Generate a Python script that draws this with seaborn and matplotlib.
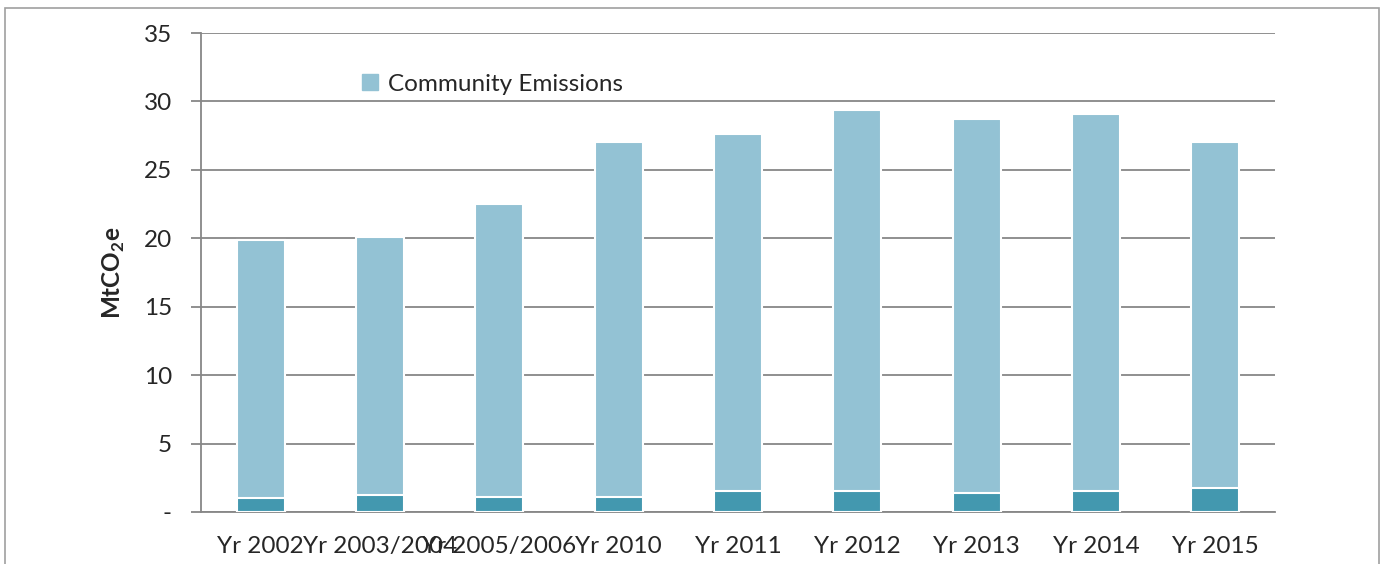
import matplotlib
matplotlib.use("Agg")
import matplotlib.pyplot as plt
import matplotlib.patches as mpatches
import seaborn as sns
import pandas as pd
import numpy as np

# values (MtCO2e)
years = ["Yr 2002", "Yr 2003/2004", "Yr 2005/2006", "Yr 2010", "Yr 2011",
         "Yr 2012", "Yr 2013", "Yr 2014", "Yr 2015"]
council = [1.0, 1.25, 1.1, 1.1, 1.55, 1.5, 1.4, 1.55, 1.75]
community = [18.9, 18.85, 21.4, 25.9, 26.05, 27.9, 27.3, 27.55, 25.25]
yticks = [0, 5, 10, 15, 20, 25, 30, 35]
ytick_labels = ["-", "5", "10", "15", "20", "25", "30", "35"]

light = "#93c2d4"
dark = "#4398af"
grey = "#878787"
fs = 17.5

sns.set_style("white")
plt.rcParams["font.family"] = ["Lato", "DejaVu Sans"]
plt.rcParams["mathtext.fontset"] = "custom"
plt.rcParams["mathtext.rm"] = "Lato"
plt.rcParams["mathtext.bf"] = "Lato:bold"

df = pd.DataFrame({"year": years, "council": council, "community": community})
df["total"] = df["council"] + df["community"]

fig = plt.figure(figsize=(13.84, 5.64), dpi=100)
ax = fig.add_axes([201 / 1384, 52 / 564, 1074 / 1384, 479 / 564])

# outer chart border
fig.patches.append(mpatches.Rectangle((5 / 1384, -0.05), 1374 / 1384, 1.05 - 8 / 564,
                                      transform=fig.transFigure, fill=False,
                                      edgecolor="#a0a0a0", linewidth=1.2))

sns.barplot(data=df, x="year", y="total", color=light, saturation=1, width=0.4,
            edgecolor="white", linewidth=1.5, ax=ax, zorder=3)
sns.barplot(data=df, x="year", y="council", color=dark, saturation=1, width=0.4,
            edgecolor="white", linewidth=1.5, ax=ax, zorder=4)

ax.set_ylim(0, 35)
ax.set_xlim(-0.5, len(years) - 0.5)
ax.set_yticks(yticks)
ax.set_yticklabels(ytick_labels, fontsize=fs)
ax.yaxis.grid(True, color=grey, linewidth=1.3, zorder=0)
ax.set_axisbelow(True)

ax.set_xticks(range(len(years)))
ax.set_xticklabels(years, fontsize=fs)
ax.set_xticks(np.arange(-0.5, len(years), 1.0), minor=True)
ax.tick_params(axis="x", which="major", length=0, pad=17)
ax.tick_params(axis="x", which="minor", length=6, color=grey, width=1.3, direction="out")
ax.tick_params(axis="y", length=7, color=grey, width=1.3, direction="out", pad=14, left=True)

for s in ["top", "right"]:
    ax.spines[s].set_visible(False)
for s in ["left", "bottom"]:
    ax.spines[s].set_color(grey)
    ax.spines[s].set_linewidth(1.3)

ax.set_xlabel("")
ax.set_ylabel(r"MtCO$_\mathbf{2}$e", fontsize=fs, fontweight="bold", labelpad=12)

handle = mpatches.Patch(color=light, label="Community Emissions")
ax.legend(handles=[handle], loc="center left", bbox_to_anchor=(0.150, 0.893),
          frameon=False, fontsize=fs, handlelength=0.65, handleheight=0.65,
          handletextpad=0.4, borderpad=0, borderaxespad=0)

fig.savefig("out.png", dpi=100)
